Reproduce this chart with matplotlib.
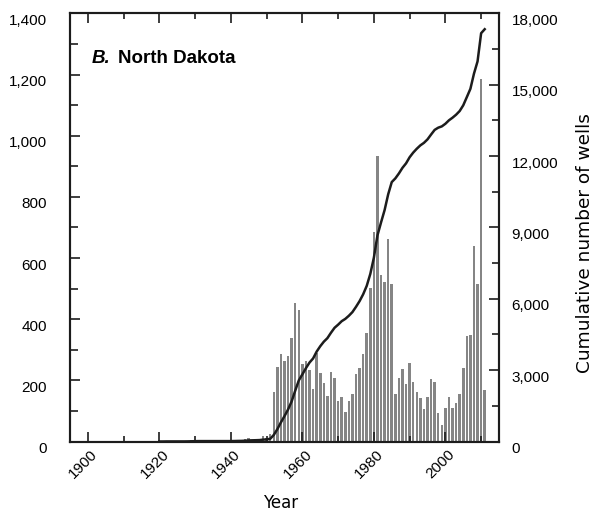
import numpy as np
import matplotlib
matplotlib.use("Agg")
import matplotlib.pyplot as plt
import matplotlib.transforms as mtransforms
from matplotlib.ticker import MultipleLocator, FuncFormatter

# annual number of wells drilled, North Dakota
years = list(range(1920, 2012))
wells = [
    0, 0, 3, 0, 0, 0, 0, 0, 2, 4,            # 1920-1929
    5, 3, 0, 0, 0, 0, 0, 0, 0, 0,            # 1930-1939
    0, 3, 4, 2, 8, 11, 5, 4, 6, 18,          # 1940-1949
    10, 25, 162, 244, 286, 263, 280, 339, 453, 430,   # 1950-1959
    254, 263, 234, 172, 290, 224, 191, 149, 227, 208,  # 1960-1969
    132, 146, 96, 132, 155, 221, 240, 286, 355, 502,   # 1970-1979
    685, 934, 545, 522, 662, 515, 155, 208, 237, 188,  # 1980-1989
    257, 195, 162, 142, 106, 146, 204, 195, 93, 54,    # 1990-1999
    110, 146, 110, 126, 155, 240, 345, 348, 639, 515,  # 2000-2009
    1185, 168,                                          # 2010-2011
]
cumulative = np.cumsum(wells)

yticks_left = list(range(0, 1401, 200))
yticks_right = list(range(0, 18001, 3000))
xticks = list(range(1900, 2001, 20))

plt.rcParams["font.family"] = ["Liberation Sans", "DejaVu Sans"]

fig = plt.figure(figsize=(5.98, 5.16), dpi=100)
ax = fig.add_axes([70 / 598, 74.5 / 516, 429 / 598, 428 / 516])
ax2 = ax.twinx()

ax.bar(years, wells, width=0.7, color="#858585", linewidth=0)
ax2.plot(years, cumulative, color="#1c1c1c", linewidth=1.8)

ax.set_xlim(1895, 2015)
ax.set_ylim(0, 1400)
ax2.set_ylim(0, 18000)

ax.set_xticks(xticks)
ax.xaxis.set_minor_locator(MultipleLocator(10))
ax.set_yticks(yticks_left)
ax.yaxis.set_minor_locator(MultipleLocator(100))
ax2.set_yticks(yticks_right)
ax2.yaxis.set_minor_locator(MultipleLocator(1500))

comma = FuncFormatter(lambda v, p: f"{int(v):,}")
ax.yaxis.set_major_formatter(comma)
ax2.yaxis.set_major_formatter(comma)

for a in (ax, ax2):
    for s in a.spines.values():
        s.set_linewidth(1.5)
        s.set_color("#1c1c1c")

ax.tick_params(axis="x", which="both", direction="in", top=True, width=1.2,
               color="#1c1c1c", labelsize=11, pad=4)
ax.tick_params(axis="x", which="major", length=7)
ax.tick_params(axis="x", which="minor", length=4.5)
ax.tick_params(axis="y", which="both", direction="in", width=1.2,
               color="#1c1c1c", labelsize=11, pad=16.5)
ax.tick_params(axis="y", which="major", length=7)
ax.tick_params(axis="y", which="minor", length=5.5)
ax2.tick_params(axis="y", which="both", direction="in", width=1.2,
                color="#1c1c1c", labelsize=11, pad=9)
ax2.tick_params(axis="y", which="major", length=7.5)
ax2.tick_params(axis="y", which="minor", length=5)

# y labels sit a little below their ticks
down = mtransforms.ScaledTranslation(0, -6 / 100, fig.dpi_scale_trans)
for lab in ax.get_yticklabels() + ax2.get_yticklabels():
    lab.set_transform(lab.get_transform() + down)

shift = mtransforms.ScaledTranslation(2.5 / 100, 0, fig.dpi_scale_trans)
for lab in ax.get_xticklabels():
    lab.set_rotation(45)
    lab.set_rotation_mode("anchor")
    lab.set_ha("right")
    lab.set_va("top")
    lab.set_transform(lab.get_transform() + shift)

ax.text(0.0506, 0.8836, "B.", transform=ax.transAxes, fontsize=13.5,
        fontweight="bold", fontstyle="italic", va="baseline", ha="left")
ax.text(0.1126, 0.8836, "North Dakota", transform=ax.transAxes, fontsize=13.5,
        fontweight="bold", va="baseline", ha="left")

fig.text(281 / 598, 1 - 503 / 516, "Year", fontsize=12,
         family=["DejaVu Sans"], ha="center", va="center")
fig.text(585.5 / 598, 1 - 243 / 516, "Cumulative number of wells",
         fontsize=13.3, family=["DejaVu Sans"], rotation=90,
         ha="center", va="center")

fig.savefig("out.png", dpi=100)
